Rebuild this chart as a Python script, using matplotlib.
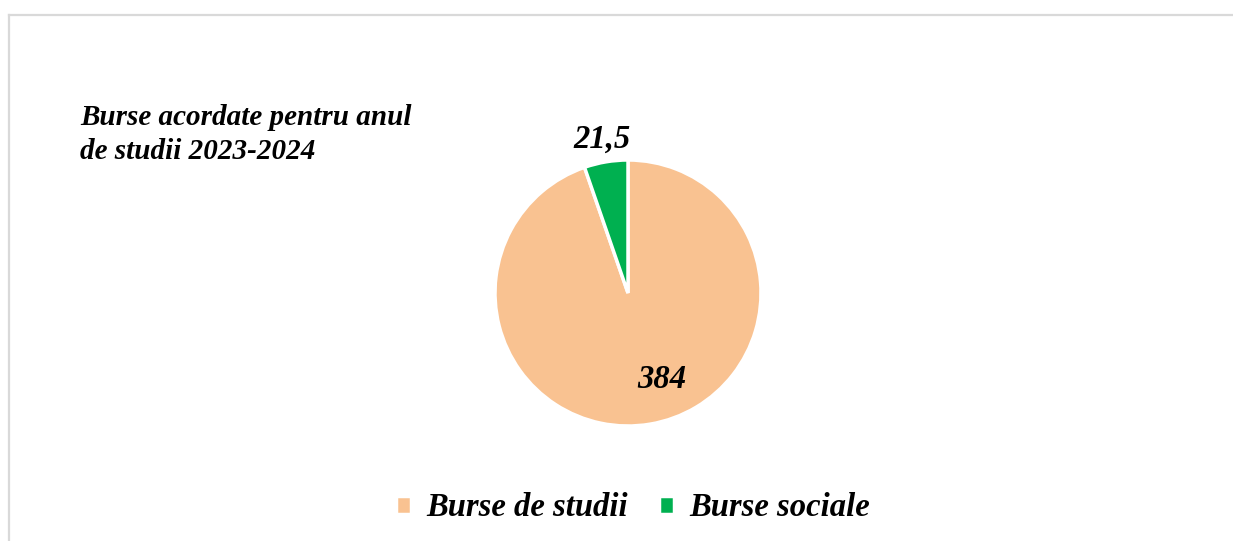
import numpy as np
import matplotlib.pyplot as plt
from matplotlib.lines import Line2D

# Datele graficului
categorii = ['Burse de studii', 'Burse sociale']
valori = [384, 21.5]
etichete = ['384', '21,5']
culori = ['#F9C291', '#00B050']
titlu = 'Burse acordate pentru anul\nde studii 2023-2024'

plt.rcParams['font.family'] = ['Liberation Serif', 'DejaVu Serif']

fig = plt.figure(figsize=(12.33, 5.41), dpi=100)

# Chenarul gri (doar sus si stanga vizibile)
fig.add_artist(Line2D([8.5 / 1233, 1.0], [1 - 14.5 / 541] * 2, color='#D9D9D9', lw=1.6))
fig.add_artist(Line2D([8.5 / 1233] * 2, [0.0, 1 - 14.5 / 541], color='#D9D9D9', lw=1.6))

ax = fig.add_axes([(628 - 133) / 1233, (541 - 293 - 133) / 541, 266 / 1233, 266 / 541])
wedges, texts, autotexts = ax.pie(
    valori, colors=culori, startangle=90, counterclock=False,
    labels=etichete, labeldistance=1.17,
    autopct='%1.0f', pctdistance=0.69,
    wedgeprops=dict(edgecolor='white', linewidth=2.5),
    textprops=dict(fontsize=23.5, fontweight='bold', fontstyle='italic', clip_on=False))
ax.set_xlim(-1, 1)
ax.set_ylim(-1, 1)
ax.set_aspect('equal')

# 384 in interior (ca in Excel, putin spre dreapta), 21,5 in exterior
texts[0].set_text('')
texts[1].set_ha('center')
autotexts[1].set_text('')
autotexts[0].set_text(etichete[0])
unghi = np.deg2rad(-68.5)
autotexts[0].set_position((0.70 * np.cos(unghi), 0.70 * np.sin(unghi)))

fig.text(80 / 1233, 1 - 104 / 541, titlu, fontsize=21, fontweight='bold',
         fontstyle='italic', va='top', ha='left', linespacing=1.33)

fig.legend(wedges, categorii, loc='center', bbox_to_anchor=(633 / 1233, 1 - 508 / 541),
           ncol=2, frameon=False, handlelength=0.45, handleheight=0.45, handletextpad=0.46,
           columnspacing=0.96,
           prop=dict(size=23.5, weight='bold', style='italic'))

fig.savefig('out.png', dpi=100)
